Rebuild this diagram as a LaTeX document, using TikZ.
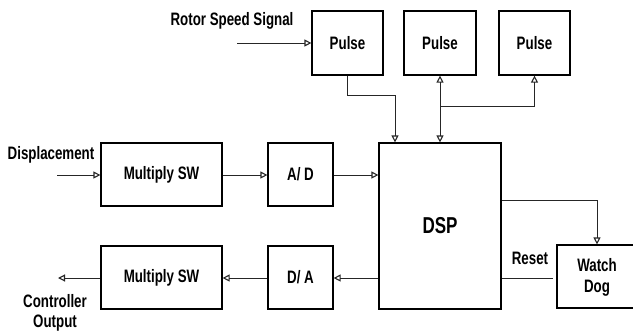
\documentclass[tikz,border=0pt]{standalone}
\usepackage{fontspec}
\setmainfont{Liberation Sans}[FakeStretch=0.74]
\usetikzlibrary{arrows.meta,calc}
\tikzset{
  blk/.style={draw, line width=1.2pt, inner sep=0pt, font=\bfseries\fontsize{18}{18}\selectfont},
  lbl/.style={inner sep=0pt, font=\bfseries\fontsize{18}{18}\selectfont, align=center},
  tip/.style={Triangle[open,length=7pt,width=7pt,line width=1.1pt]},
  con/.style={line width=0.8pt, draw=black!85, -{Triangle[open,length=7pt,width=7pt,line width=1.1pt]}},
  conb/.style={line width=0.8pt, draw=black!85, {Triangle[open,length=7pt,width=7pt,line width=1.1pt]}-{Triangle[open,length=7pt,width=7pt,line width=1.1pt]}},
  plain/.style={line width=0.8pt, draw=black!85}
}
\begin{document}
\begin{tikzpicture}[x=1pt,y=1pt]
\useasboundingbox (0,0) rectangle (633,-333);
\clip (0,0) rectangle (633,-333);
\fill[white] (0,0) rectangle (633,-333);
% boxes
\node[blk, minimum width=71pt, minimum height=64pt] (p1) at (347.5,-43) {Pulse};
\node[blk, minimum width=72pt, minimum height=64pt] (p2) at (440,-43) {Pulse};
\node[blk, minimum width=71pt, minimum height=64pt] (p3) at (534.5,-43) {Pulse};
\node[blk, minimum width=122pt, minimum height=166pt, font=\bfseries\fontsize{23}{23}\selectfont] (dsp) at (440,-226) {DSP};
\node[blk, minimum width=121pt, minimum height=63pt] (m1) at (161.5,-174.5) {Multiply SW};
\node[blk, minimum width=65pt, minimum height=63pt] (ad) at (300.5,-174.5) {A/ D};
\node[blk, minimum width=121pt, minimum height=63pt] (m2) at (161.5,-277.5) {Multiply SW};
\node[blk, minimum width=65pt, minimum height=63pt] (da) at (300.5,-277.5) {D/ A};
\node[blk, minimum width=80pt, minimum height=63pt] (wd) at (597,-276.5) {};
\node[lbl] (wdt) at (597,-277) {Watch\\[3pt]Dog};
% labels
\node[lbl] (rss) at (232,-21) {Rotor Speed Signal};
\node[lbl] (disp) at (51,-155) {Displacement};
\node[lbl] (co) at (55,-313) {Controller\\[2pt]Output};
\node[lbl] (rst) at (530,-258) {Reset};
% free ends
\coordinate (rin) at (237,-43);
\coordinate (din) at (57,-175);
\coordinate (cout) at (58,-278);
\coordinate (br) at (440,-106);
\coordinate (rend) at (553,-278);
% connectors
\draw[con] (rin) -- (p1.west);
\draw[con] (din) -- (din -| m1.west);
\draw[con] (m1.east |- din) -- (ad.west |- din);
\draw[con] (ad.east |- din) -- (dsp.west |- din);
\draw[con] (dsp.west |- cout) -- (da.east |- cout);
\draw[con] (da.west |- cout) -- (m2.east |- cout);
\draw[con] (m2.west |- cout) -- (cout);
\draw[con] (p1.south) -- ++(0,-20) -| ([xshift=-45pt]dsp.north);
\draw[conb] (p2.south) -- (dsp.north);
\draw[con] (br) -| (p3.south);
\draw[con] (dsp.east |- 0,-200) -| (wd.north);
\draw[plain] (dsp.east |- rend) -- (rend);
\end{tikzpicture}
\end{document}
